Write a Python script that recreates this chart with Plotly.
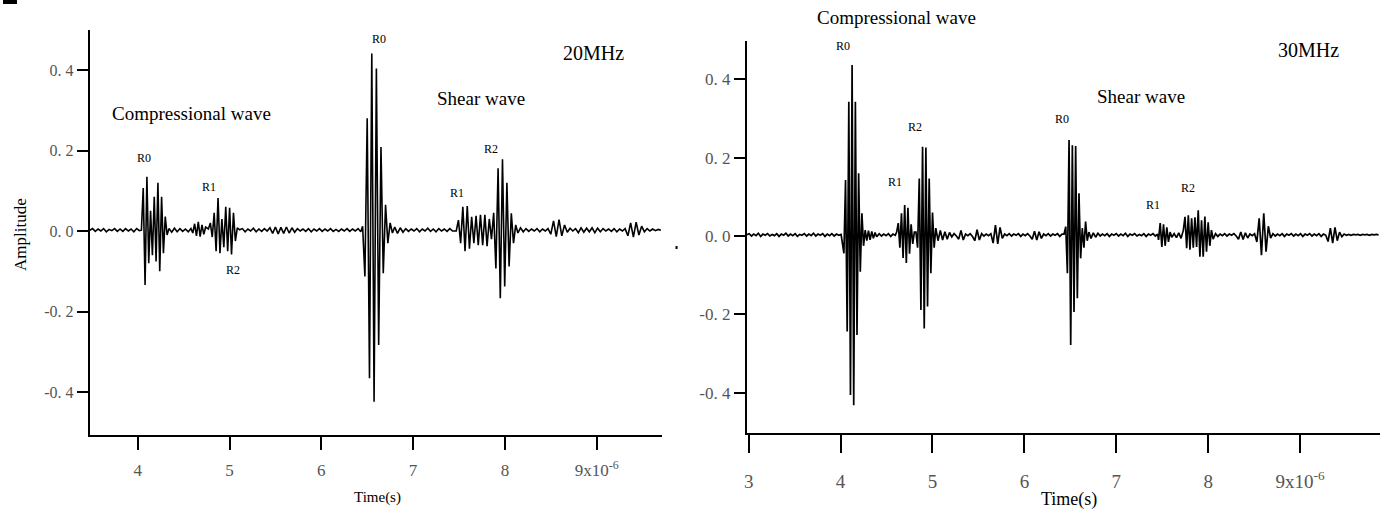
import plotly.graph_objects as go

# ---------------- DATA (time in microseconds, amplitude in thousandths) ----------------
# 20 MHz record: segments given as start time, sampling step and read-off amplitudes
seg20_start = [3.478, 4.04, 4.34, 4.60, 4.77, 5.11, 6.45, 6.80, 7.47, 8.17]
seg20_step = [0.03, 0.02, 0.03, 0.02, 0.021, 0.03, 0.025, 0.03, 0.024, 0.03]
a20_base1 = [2, 6, -1, 5, 0, 6, -2, 4, 1, 6, -1, 5, -1, 6, 0, 5, -2, 6, 1]
a20_comp_R0 = [2, 107, -134, 135, -80, 50, -60, 85, -76, 120, -100, 85, -55, 36, -10]
a20_base2 = [6, -3, 7, -2, 6, -1, 5, -2, 6]
a20_pre_R1 = [-5, 18, -12, 23, -14, 15, -8, 10]
a20_comp_R1R2 = [5, 20, -15, 45, -50, 82, -55, 30, -40, 60, -50, 58, -58, 45, -25, 8]
a20_base3 = [3, 6, -2, 5, 0, 7, -2, 5, -1, 6, 0, 8, -6, 10, -7, 9, -6, 10, -5, 8, -3, 6, 0, 5,
             -1, 6, -2, 5, 0, 6, -1, 5, 0, 6, -1, 4, -1, 5, 0, 6, -1, 5, 0, 6, -2]
a20_shear_R0 = [12, -113, 280, -366, 441, -424, 404, -283, 209, -105, 65, -30, 20, -5]
a20_base4 = [10, -6, 8, -3, 6, -1, 5, 0, 6, -2, 5, 0, 7, -1, 5, -2, 6, 0, 5, -1, 6, 0]
a20_shear_R1R2 = [0, 27, -30, 60, -50, 62, -44, 35, -30, 38, -35, 40, -35, 40, -38, 30, -20,
                  45, -93, 156, -167, 178, -138, 120, -88, 44, -30, 15, -5]
a20_base5 = [8, -2, 6, -1, 5, 0, 6, -2, 5, 0, 6, -8, 25, -14, 28, -12, 15, -3, 7, 0, 6, -4, 8,
             -3, 7, -2, 8, -4, 7, -2, 6, 0, 5, -1, 6, -2, 5, 0, 6, -12, 20, -15, 22, -10, 12,
             -2, 6, 0, 5, 1, 4, 2]
seg20_amp = [a20_base1, a20_comp_R0, a20_base2, a20_pre_R1, a20_comp_R1R2, a20_base3,
             a20_shear_R0, a20_base4, a20_shear_R1R2, a20_base5]

# 30 MHz record
seg30_start = [2.98, 4.036, 4.285, 4.42, 4.61, 4.82, 5.06, 6.432, 6.725, 7.46, 7.63, 7.73, 8.08]
seg30_step = [0.025, 0.0178, 0.018, 0.025, 0.0175, 0.018, 0.025, 0.018, 0.025, 0.018, 0.025,
              0.018, 0.025]
a30_base1 = [3, 6, 0, 5, 1, 7, -1, 5, 2, 6, 0, 4, 1, 6, -1, 5, 2, 7, 0, 5, 1, 6, -1, 4, 2, 6,
             0, 5, 1, 7, 0, 5, 2, 6, -1, 5, 1, 6, 0, 5, 2, 4]
a30_comp_R0 = [-44, 143, -244, 343, -406, 437, -432, 343, -253, 160, -91, 58, -25, 15]
a30_ring1 = [-12, 14, -10, 12, -6, 9, -2]
a30_base2 = [6, 0, 5, 1, 6, -1, 5, 2]
a30_comp_R1 = [10, 33, -30, 58, -56, 79, -69, 72, -45, 30, -20, 10]
a30_comp_R2 = [10, -30, 147, -189, 228, -236, 226, -180, 147, -95, 60, -30, 20]
a30_base3 = [-12, 14, -10, 11, -8, 9, -2, 6, 0, -8, 14, -10, 5, 1, 6, -1, -12, 16, -10, 6, 0,
             5, 1, 6, -18, 28, -20, 22, -6, 5, 1, 6, 0, 5, 2, 6, -1, 5, 1, 6, 0, -8, 12, -10,
             11, -6, 5, 1, 6, 0, 5, 2, 6, -1, 5]
a30_shear_R0 = [5, 24, -95, 245, -278, 232, -194, 230, -159, 109, -57, 20, -30, 37, -12, 10]
a30_base4 = [-6, 8, -3, 7, 0, 5, 1, 6, -1, 5, 2, 6, 0, 5, 1, 7, -1, 5, 2, 6, 0, 4, 1, 6, -1,
             5, 2, 6, 0, 5]
a30_shear_R1 = [-10, 33, -28, 30, -25, 22, -15, 10, -3]
a30_base5 = [6, -4, 8, -6]
a30_shear_R2 = [15, 49, -31, 53, -35, 45, -30, 48, -28, 66, -53, 40, -53, 50, -40, 35, -25,
                15, -8]
a30_base6 = [6, -1, 5, 1, 6, 0, 5, 2, 6, 0, -8, 10, -9, 8, -5, 5, 1, 6, -15, 45, -49, 58, -40,
             25, -5, 6, 0, 5, 1, 6, -1, 5, 2, 6, 0, 5, 1, 6, -1, 5, 2, 6, 0, 5, 1, 6, -1, 5, 2,
             -14, 20, -18, 22, -12, 10, -2, 5, 2, 4, 2, 4, 3, 4, 2, 4, 3, 4, 2, 4, 3, 4, 3]
seg30_amp = [a30_base1, a30_comp_R0, a30_ring1, a30_base2, a30_comp_R1, a30_comp_R2,
             a30_base3, a30_shear_R0, a30_base4, a30_shear_R1, a30_base5, a30_shear_R2,
             a30_base6]

x_tickvals_20 = [4, 5, 6, 7, 8, 9]
x_ticktext_20 = ["4", "5", "6", "7", "8", "9x10<sup>-6</sup>"]
x_tickvals_30 = [3, 4, 5, 6, 7, 8, 9]
x_ticktext_30 = ["3", "4", "5", "6", "7", "8", "9x10<sup>-6</sup>"]
y_tickvals = [-0.4, -0.2, 0.0, 0.2, 0.4]
y_ticktext = ["-0. 4", "-0. 2", "0. 0", "0. 2", "0. 4"]


def build(starts, steps, amps):
    t, a = [], []
    for s0, dt, vals in zip(starts, steps, amps):
        for i, v in enumerate(vals):
            t.append(s0 + i * dt)
            a.append(v / 1000.0)
    return t, a


t20, a20 = build(seg20_start, seg20_step, seg20_amp)
t30, a30 = build(seg30_start, seg30_step, seg30_amp)

SERIF = "Liberation Serif, Times New Roman, serif"
TICKGRAY = "#555555"
W, H = 1380, 510

fig = go.Figure()
fig.add_trace(go.Scatter(x=t20, y=a20, mode="lines", line=dict(color="black", width=1.6),
                         xaxis="x", yaxis="y", showlegend=False, hoverinfo="skip"))
fig.add_trace(go.Scatter(x=t30, y=a30, mode="lines", line=dict(color="black", width=1.7),
                         xaxis="x2", yaxis="y2", showlegend=False, hoverinfo="skip"))

axis_common = dict(showline=True, linewidth=2, linecolor="black", showgrid=False,
                   zeroline=False, ticks="outside", tickwidth=2, tickcolor="black")

fig.update_layout(
    width=W, height=H,
    margin=dict(l=0, r=0, t=0, b=0),
    paper_bgcolor="white", plot_bgcolor="white",
    xaxis=dict(domain=[87 / W, 660 / W], range=[3.478, 9.707], anchor="y",
               tickvals=x_tickvals_20, ticktext=x_ticktext_20, ticklen=13,
               ticklabelstandoff=6,
               tickfont=dict(family=SERIF, size=17, color=TICKGRAY), **axis_common),
    yaxis=dict(domain=[1 - 435 / H, 1 - 30 / H], range=[-0.5068, 0.4994], anchor="x",
               tickvals=y_tickvals, ticktext=y_ticktext, ticklen=11,
               tickfont=dict(family=SERIF, size=16, color=TICKGRAY), **axis_common),
    xaxis2=dict(domain=[745.5 / W, 1.0], range=[2.98, 9.87], anchor="y2",
                tickvals=x_tickvals_30, ticktext=x_ticktext_30, ticklen=18,
                ticklabelstandoff=12,
                tickfont=dict(family=SERIF, size=19, color=TICKGRAY), **axis_common),
    yaxis2=dict(domain=[1 - 433 / H, 1 - 41 / H], range=[-0.503, 0.498], anchor="x2",
                tickvals=y_tickvals, ticktext=y_ticktext, ticklen=11,
                tickfont=dict(family=SERIF, size=17, color=TICKGRAY), **axis_common),
)


def note(text, x, y, size, xref="x", yref="y", **kw):
    fig.add_annotation(text=text, x=x, y=y, xref=xref, yref=yref, showarrow=False,
                       xanchor="center", yanchor="middle",
                       font=dict(family=SERIF, size=size, color="black"), **kw)


def pnote(text, px, py, size, **kw):
    note(text, px / W, 1 - py / H, size, xref="paper", yref="paper", **kw)


# left panel labels
note("Compressional wave", 4.587, 0.293, 19)
note("R0", 4.068, 0.181, 12)
note("R1", 4.78, 0.110, 12)
note("R2", 5.033, -0.097, 12)
note("R0", 6.63, 0.477, 12)
note("Shear wave", 7.74, 0.328, 19)
note("R1", 7.48, 0.095, 12)
note("R2", 7.85, 0.205, 12)
note("20MHz", 8.96, 0.442, 20)
# right panel labels
pnote("Compressional wave", 895, 18, 19)
note("R0", 4.025, 0.485, 12, xref="x2", yref="y2")
note("R1", 4.593, 0.139, 12, xref="x2", yref="y2")
note("R2", 4.81, 0.279, 12, xref="x2", yref="y2")
note("R0", 6.414, 0.298, 12, xref="x2", yref="y2")
note("Shear wave", 7.273, 0.356, 19, xref="x2", yref="y2")
note("R1", 7.402, 0.079, 12, xref="x2", yref="y2")
note("R2", 7.782, 0.123, 12, xref="x2", yref="y2")
note("30MHz", 9.09, 0.475, 20, xref="x2", yref="y2")

# axis titles
pnote("Amplitude", 18, 234, 17, textangle=-90)
pnote("Time(s)", 375, 497, 15)
pnote("Time(s)", 1068, 499, 18)

# small stray marks in the original figure
fig.add_shape(type="rect", xref="paper", yref="paper", x0=0, x1=14 / W,
              y0=1 - 4 / H, y1=1, fillcolor="black", line=dict(width=0))
fig.add_shape(type="rect", xref="paper", yref="paper", x0=674 / W, x1=676 / W,
              y0=1 - 249 / H, y1=1 - 246 / H, fillcolor="black", line=dict(width=0))

fig.write_html("out.html",
               config={"displayModeBar": False, "staticPlot": True},
               post_script="document.body.style.margin='0px';document.body.style.overflow='hidden';")
